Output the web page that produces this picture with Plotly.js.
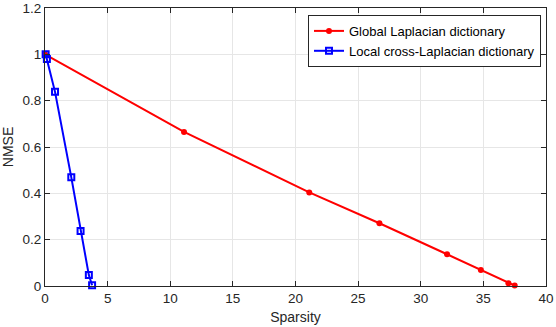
<!DOCTYPE html>
<html>
<head>
<meta charset="utf-8">
<script src="https://cdn.plot.ly/plotly-3.0.1.min.js"></script>
<style>
  html, body { margin: 0; padding: 0; background: #fff; }
  #chart { width: 556px; height: 327px; }
</style>
</head>
<body>
<div id="chart"></div>
<script>
// values
const globalSparsity = [0, 11.1, 21.1, 26.7, 32.1, 34.8, 37.0, 37.5];
const globalNmse = [1.0, 0.665, 0.404, 0.271, 0.137, 0.069, 0.012, 0.002];
const localSparsity = [0.05, 0.15, 0.8, 2.1, 2.84, 3.5, 3.76];
const localNmse = [1.0, 0.98, 0.838, 0.469, 0.237, 0.047, 0.003];

const xTicks = [0, 5, 10, 15, 20, 25, 30, 35, 40];
const yTicks = [0, 0.2, 0.4, 0.6, 0.8, 1, 1.2];
const yTickText = ['0', '0.2', '0.4', '0.6', '0.8', '1', '1.2'];

const fontFam = 'Liberation Sans, Arial, sans-serif';

let data = [{
    x: globalSparsity,
    y: globalNmse,
    type: 'scatter',
    mode: 'lines+markers',
    name: 'Global Laplacian dictionary',
    line: {color: '#ff0000', width: 2},
    marker: {symbol: 'circle', size: 6, color: '#ff0000'},
    cliponaxis: false
}, {
    x: localSparsity,
    y: localNmse,
    type: 'scatter',
    mode: 'lines+markers',
    name: 'Local cross-Laplacian dictionary',
    line: {color: '#0000ff', width: 2},
    marker: {symbol: 'square-open', size: 6, color: '#0000ff', line: {width: 2}},
    cliponaxis: false
}];

let axisCommon = {
    showline: true,
    linecolor: '#262626',
    linewidth: 1,
    mirror: 'ticks',
    ticks: 'inside',
    ticklen: 5,
    tickcolor: '#262626',
    showgrid: true,
    gridcolor: '#e6e6e6',
    zeroline: false,
    ticklabeloverflow: 'allow',
    tickfont: {family: fontFam, size: 13.5, color: '#262626'}
};

let layout = {
    width: 556,
    height: 327,
    margin: {l: 45, r: 10, t: 8, b: 41},
    paper_bgcolor: '#ffffff',
    plot_bgcolor: '#ffffff',
    showlegend: true,
    legend: {
        x: 0.99, y: 0.975,
        xanchor: 'right', yanchor: 'top',
        bgcolor: '#ffffff',
        bordercolor: '#262626',
        borderwidth: 1,
        font: {family: fontFam, size: 13, color: '#000'},
        tracegroupgap: 0,
        itemwidth: 30
    },
    xaxis: Object.assign({}, axisCommon, {
        range: [0, 40],
        tickvals: xTicks,
        title: {text: 'Sparsity', standoff: 6, font: {family: fontFam, size: 14, color: '#262626'}}
    }),
    yaxis: Object.assign({}, axisCommon, {
        range: [0, 1.2],
        tickvals: yTicks,
        ticktext: yTickText,
        title: {text: 'NMSE', standoff: 8, font: {family: fontFam, size: 14, color: '#262626'}}
    })
};

Plotly.newPlot('chart', data, layout, {displayModeBar: false, staticPlot: true});
</script>
</body>
</html>
